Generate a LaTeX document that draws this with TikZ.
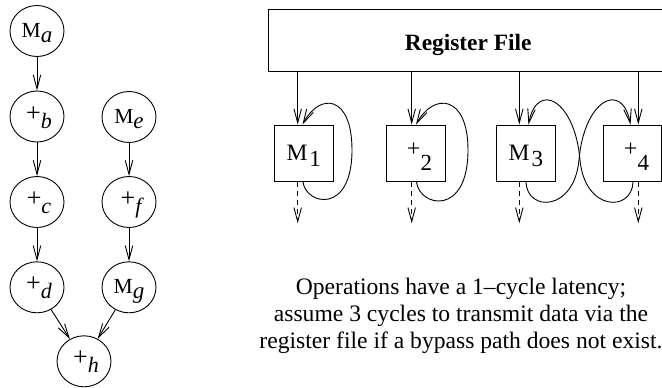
\documentclass[tikz,border=0pt]{standalone}
\usepackage{fontspec}
\setmainfont{Liberation Serif}
\usetikzlibrary{arrows.meta,shapes.geometric}
\begin{document}
\begin{tikzpicture}[x=1pt,y=-1pt,
  line width=0.9pt,
  op/.style={draw, ellipse, minimum width=54pt, minimum height=51pt, inner sep=0pt,
    text height=0pt, text depth=0pt, font=\fontsize{22}{22}\selectfont},
  unit/.style={draw, rectangle, inner sep=0pt, minimum height=56.6pt,
    text height=0pt, text depth=0pt, font=\fontsize{23}{23}\selectfont},
  arr/.style={-{Straight Barb[length=14pt,width=7.5pt]}},
  dasharr/.style={arr, dash pattern=on 5pt off 4pt},
  note/.style={anchor=base, font=\fontsize{23.6}{27}\selectfont}]
\useasboundingbox (0,0) rectangle (662,388);

% ---- dependence graph ----
\newcommand{\mlab}[1]{\raisebox{-6pt}{{\fontsize{21.5}{22}\selectfont M}\raisebox{-5pt}{\fontsize{23}{23}\selectfont\itshape #1}}}
\newcommand{\plab}[1]{\kern4pt\raisebox{-4.5pt}{{\fontsize{26}{26}\selectfont+}\raisebox{-7pt}{\fontsize{22}{22}\selectfont\itshape #1}}}
\node[op] (ma) at (37,31)    {\mlab{a}};
\node[op] (pb) at (37,116.5) {\plab{b}};
\node[op] (pc) at (37,202)   {\plab{c}};
\node[op] (pd) at (37,287.3) {\plab{d}};
\node[op] (me) at (129,117)  {\mlab{e}};
\node[op] (pf) at (129,202)  {\plab{f}};
\node[op] (mg) at (129,287.3){\mlab{g}};
\node[op] (ph) at (84,361.3) {\plab{h}};
\draw[arr] (ma) -- (pb);
\draw[arr] (pb) -- (pc);
\draw[arr] (pc) -- (pd);
\draw[arr] (me) -- (pf);
\draw[arr] (pf) -- (mg);
\draw[arr] (pd) -- (ph);
\draw[arr] (mg) -- (ph);

% ---- register file and units ----
\node[draw, rectangle, inner sep=0pt, minimum width=399.7pt, minimum height=62.4pt,
  text height=0pt, text depth=0pt, font=\fontsize{23.4}{24}\selectfont\bfseries]
  (rf) at (468.2,40.5) {\raisebox{-9.5pt}{Register File}};

\newcommand{\ulabM}[1]{\raisebox{-6.7pt}{{\fontsize{23.5}{24}\selectfont M}\kern2pt\raisebox{-6.7pt}{#1}}}
\newcommand{\ulabP}[1]{\kern8pt\raisebox{-3.4pt}{{\fontsize{24}{24}\selectfont+}\raisebox{-13.5pt}{#1}}}
\node[unit, minimum width=59.3pt] (u1) at (303.7,153.3) {\ulabM{1}};
\node[unit, minimum width=59pt]   (u2) at (415.5,153.3) {\ulabP{2}};
\node[unit, minimum width=58.3pt] (u3) at (525.9,153.3) {\ulabM{3}};
\node[unit, minimum width=58.3pt] (u4) at (632.5,153.3) {\ulabP{4}};

\coordinate (o1) at (297.7,223.3);
\coordinate (o2) at (411.7,223.3);
\coordinate (o3) at (519.3,223.3);
\coordinate (o4) at (638.3,223.3);
\foreach \i in {1,2,3,4}{
  \draw[arr] (rf.south -| o\i) -- (u\i.north -| o\i);
  \draw[dasharr] (u\i.south -| o\i) -- (o\i);
}

% bypass loops
\coordinate (s1) at (303,0);   \coordinate (e1) at (302.5,0);
\coordinate (s2) at (416.5,0); \coordinate (e2) at (416,0);
\coordinate (s3) at (526,0);   \coordinate (e3) at (528.5,0);
\coordinate (s4) at (633,0);   \coordinate (e4) at (630.5,0);
\draw[arr] (u1.south -| s1) .. controls (306,205) and (352,215) .. (352,150)
  .. controls (352,95) and (320,92) .. (u1.north -| e1);
\draw[arr] (u2.south -| s2) .. controls (419.5,207) and (468,217) .. (468,150)
  .. controls (468,95) and (434,92) .. (u2.north -| e2);
\draw[arr] (u3.south -| s3) .. controls (527,212) and (574,212) .. (579,160)
  .. controls (584,100) and (622,80) .. (u4.north -| e4);
\draw[arr] (u4.south -| s4) .. controls (632,212) and (585,212) .. (580,160)
  .. controls (575,100) and (537,80) .. (u3.north -| e3);

% ---- note ----
\node[note] (n1) at (461,294)   {Operations have a 1–cycle latency;};
\node[note] (n2) at (461,321.5) {assume 3 cycles to transmit data via the};
\node[note] (n3) at (461,348.5) {register file if a bypass path does not exist.};
\end{tikzpicture}
\end{document}
